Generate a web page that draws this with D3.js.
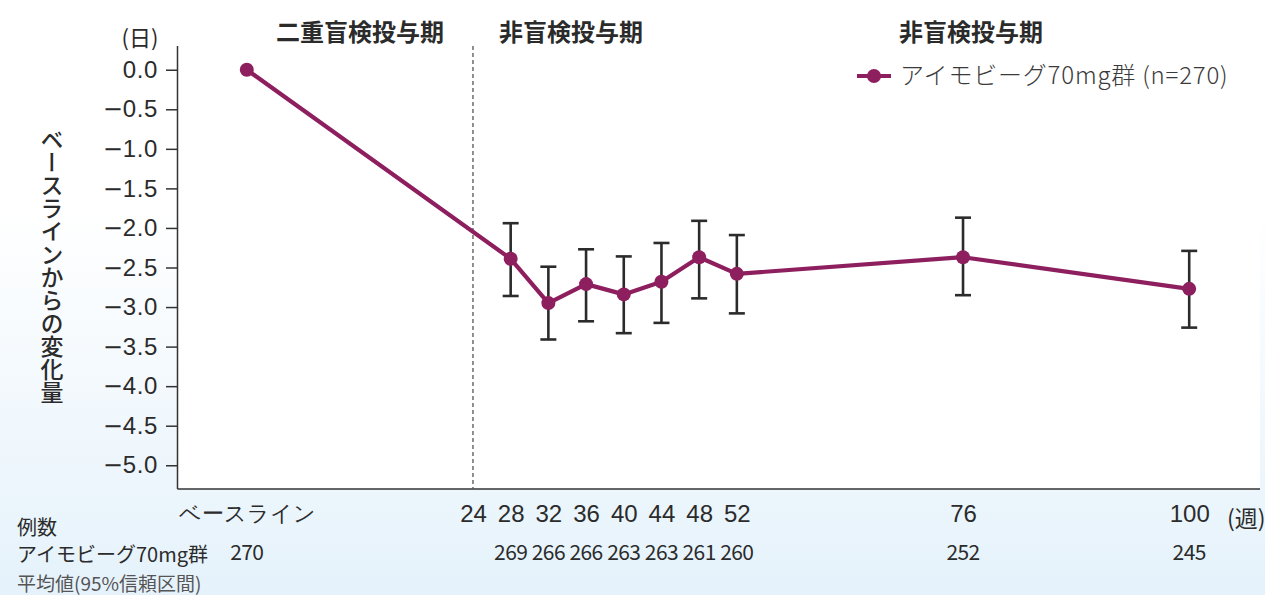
<!DOCTYPE html>
<html><head><meta charset="utf-8">
<script src="https://cdn.jsdelivr.net/npm/d3@7"></script>
<style>
html,body{margin:0;padding:0;background:#fff;}
svg{display:block;font-family:"Noto Sans CJK JP","Noto Sans",sans-serif;}
</style></head>
<body>
<svg id="chart" width="1265" height="595"></svg>
<script>
// ---- data ----
const weeks = [0, 28, 32, 36, 40, 44, 48, 52, 76, 100];
const means = [0.0, -2.39, -2.95, -2.71, -2.84, -2.68, -2.37, -2.58, -2.37, -2.77];
const lower = [null, -2.86, -3.41, -3.18, -3.33, -3.20, -2.89, -3.08, -2.85, -3.26];
const upper = [null, -1.94, -2.49, -2.27, -2.36, -2.19, -1.91, -2.09, -1.87, -2.29];
const counts = [270, 269, 266, 266, 263, 263, 261, 260, 252, 245];
const xTickValues = [0, 24, 28, 32, 36, 40, 44, 48, 52, 76, 100];
const xTickLabels = ["ベースライン", "24", "28", "32", "36", "40", "44", "48", "52", "76", "100"];
const yTickValues = [0, -0.5, -1, -1.5, -2, -2.5, -3, -3.5, -4, -4.5, -5];
const periodLabels = ["二重盲検投与期", "非盲検投与期", "非盲検投与期"];
const seriesName = "アイモビーグ70mg群 (n=270)";
const groupName = "アイモビーグ70mg群";

const color = "#8e1f5f";
const svg = d3.select("#chart");

// background gradient
const defs = svg.append("defs");
const grad = defs.append("linearGradient").attr("id","bg").attr("x1",0).attr("y1",0).attr("x2",0).attr("y2",1);
grad.append("stop").attr("offset","0%").attr("stop-color","#ffffff");
grad.append("stop").attr("offset","35%").attr("stop-color","#ffffff");
grad.append("stop").attr("offset","100%").attr("stop-color","#e5f2fb");
svg.append("rect").attr("width",1265).attr("height",595).attr("fill","url(#bg)");

const x = d3.scaleLinear().domain([-7.3, 107.3]).range([178, 1258]);
const y = d3.scaleLinear().domain([0.3, -5.3]).range([46, 489]);

// plot area
svg.append("rect").attr("x",x.range()[0]).attr("y",0)
  .attr("width",1260-x.range()[0]).attr("height",y.range()[1]).attr("fill","#fff");

// y axis
const yAxis = d3.axisLeft(y).tickValues(yTickValues).tickSize(12).tickPadding(8)
  .tickFormat(d => Math.abs(d).toFixed(1));
const gy = svg.append("g").attr("transform",`translate(${x.range()[0]},0)`).call(yAxis);
gy.select(".domain").attr("stroke","#333").attr("stroke-width",1.5).attr("d",`M-0.5,${y.range()[0]}V${y.range()[1]}`);
gy.selectAll(".tick line").attr("stroke","#333").attr("stroke-width",1.5);
gy.selectAll(".tick text").attr("fill","#2b2b2b").attr("font-size",24).attr("letter-spacing",0.6)
  .each(function(d){
    if (d < 0) {
      const t = d3.select(this); const num = t.text(); t.text("");
      t.append("tspan").attr("font-family","DejaVu Sans").attr("letter-spacing",0).text("\u2212");
      t.append("tspan").text(num);
    }
  });

// x axis
const xAxis = d3.axisBottom(x).tickValues(xTickValues).tickSize(0).tickPadding(16)
  .tickFormat((d,i) => xTickLabels[i]);
const gx = svg.append("g").attr("transform",`translate(0,${y.range()[1]})`).call(xAxis);
gx.select(".domain").attr("stroke","#333").attr("stroke-width",1.5).attr("d",`M${x.range()[0]-0.5},0H1260`);
gx.selectAll(".tick text").attr("fill","#2b2b2b")
  .attr("font-size",(d,i)=> i===0 ? 22 : 24);

// unit labels
svg.append("text").attr("x",1227).attr("y",527).attr("font-size",23).attr("fill","#2b2b2b").text("(週)");
svg.append("text").attr("x",140).attr("y",46).attr("text-anchor","middle").attr("font-size",22).attr("fill","#2b2b2b").text("(日)");

// dashed separator at week 24
svg.append("line").attr("x1",x(24)).attr("x2",x(24)).attr("y1",y.range()[0]).attr("y2",y.range()[1])
  .attr("stroke","#555").attr("stroke-width",1.3).attr("stroke-dasharray","4,3");

// period labels
const periodX = [360, 571, 971];
svg.selectAll(".period").data(periodLabels).join("text")
  .attr("x",(d,i)=>periodX[i]).attr("y",41).attr("text-anchor","middle")
  .attr("font-size",24).attr("font-weight","bold").attr("fill","#2b2b2b").text(d=>d);

// y axis title (vertical)
svg.append("text").attr("x",52).attr("y",128)
  .attr("font-size",23).attr("font-weight",500).attr("fill","#2b2b2b")
  .style("writing-mode","vertical-rl").style("text-orientation","upright")
  .text("ベースラインからの変化量");

// line
const pts = weeks.map((w,i)=>({w, m:means[i], lo:lower[i], hi:upper[i]}));
svg.append("path").datum(pts)
  .attr("d", d3.line().x(d=>x(d.w)).y(d=>y(d.m)))
  .attr("fill","none").attr("stroke",color).attr("stroke-width",4.2).attr("stroke-linejoin","round");

// error bars
const eb = svg.append("g").attr("stroke","#2b2b2b").attr("stroke-width",2.6);
pts.filter(d=>d.lo!==null).forEach(d=>{
  eb.append("line").attr("x1",x(d.w)).attr("x2",x(d.w)).attr("y1",y(d.lo)).attr("y2",y(d.hi));
  eb.append("line").attr("x1",x(d.w)-8).attr("x2",x(d.w)+8).attr("y1",y(d.lo)).attr("y2",y(d.lo));
  eb.append("line").attr("x1",x(d.w)-8).attr("x2",x(d.w)+8).attr("y1",y(d.hi)).attr("y2",y(d.hi));
});

// points
svg.selectAll(".pt").data(pts).join("circle")
  .attr("cx",d=>x(d.w)).attr("cy",d=>y(d.m)).attr("r",7).attr("fill",color);

// legend
svg.append("line").attr("x1",857).attr("x2",891).attr("y1",76).attr("y2",76).attr("stroke",color).attr("stroke-width",4.2);
svg.append("circle").attr("cx",874).attr("cy",76).attr("r",7).attr("fill",color);
svg.append("text").attr("x",900).attr("y",84).attr("font-size",24).attr("letter-spacing",0.8).attr("font-weight",300).attr("fill","#3a3a3a").text(seriesName);

// counts table
svg.append("text").attr("x",17).attr("y",535).attr("font-size",20).attr("fill","#2b2b2b").text("例数");
svg.append("text").attr("x",17).attr("y",562).attr("font-size",20).attr("fill","#2b2b2b").text(groupName);
svg.selectAll(".cnt").data(weeks).join("text")
  .attr("x",d=>x(d)).attr("y",560).attr("text-anchor","middle")
  .attr("font-size",21).attr("letter-spacing",-0.6).attr("fill","#2b2b2b").text((d,i)=>counts[i]);
svg.append("text").attr("x",17).attr("y",591).attr("font-size",19).attr("fill","#555").text("平均値(95%信頼区間)");
</script>
</body></html>
